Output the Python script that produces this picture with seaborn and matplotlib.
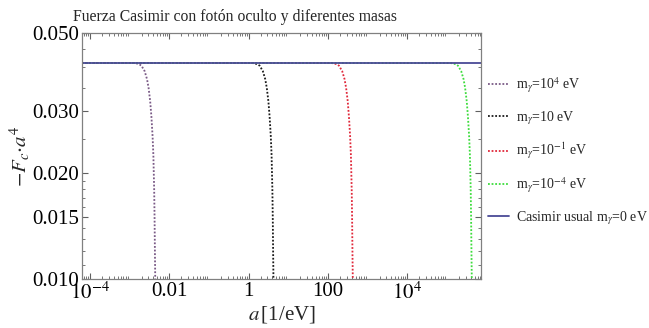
import numpy as np
import pandas as pd
import seaborn as sns
import matplotlib
matplotlib.use("Agg")
import matplotlib.pyplot as plt
from matplotlib.ticker import FixedLocator, FixedFormatter, LogLocator, NullFormatter

# ---- data ----
a_flat = [6.31e-5, 7.2e5]
f_flat = [0.0411, 0.0411]

f_drop = [0.0411, 0.0411, 0.0410, 0.0408, 0.0404, 0.0390, 0.0370, 0.0349, 0.0320,
          0.0290, 0.0255, 0.0225, 0.0180, 0.0150, 0.0117, 0.0095]

a_m1e4 = [6.31e-5, 1.318e-3, 1.514e-3, 1.738e-3, 1.995e-3, 2.399e-3, 2.754e-3, 3.020e-3,
          3.311e-3, 3.548e-3, 3.802e-3, 3.981e-3, 4.169e-3, 4.266e-3, 4.365e-3, 4.467e-3]
a_m10 = [6.31e-5, 1.259, 1.445, 1.660, 1.905, 2.291, 2.630, 2.884, 3.162, 3.388, 3.631,
         3.802, 3.981, 4.074, 4.169, 4.266]
a_m1em1 = [6.31e-5, 125.9, 144.5, 166.0, 190.5, 229.1, 263.0, 288.4, 316.2, 338.8, 363.1,
           380.2, 398.1, 407.4, 416.9, 426.6]
a_m1em4 = [6.31e-5, 1.259e5, 1.445e5, 1.660e5, 1.905e5, 2.291e5, 2.630e5, 2.884e5, 3.162e5,
           3.388e5, 3.631e5, 3.802e5, 3.981e5, 4.074e5, 4.169e5, 4.266e5]

labels = [r"m$_\gamma$=10$^4$ eV", r"m$_\gamma$=10 eV", r"m$_\gamma$=10$^{-1}$ eV",
          r"m$_\gamma$=10$^{-4}$ eV", r"Casimir usual m$_\gamma$=0 eV"]
colors = ["#7a5a86", "#1a1a1a", "#e0283a", "#3ddc3d", "#4a4a96"]

xtick_vals = [1e-4, 1e-2, 1, 1e2, 1e4]
xtick_labels = [r"$10^{-4}$", "0.01", "1", "100", r"$10^{4}$"]
ytick_vals = [0.010, 0.015, 0.020, 0.030, 0.050]
ytick_labels = ["0.010", "0.015", "0.020", "0.030", "0.050"]

sns.set_style("ticks")
plt.rcParams["font.family"] = ["Liberation Serif", "DejaVu Serif"]
plt.rcParams["mathtext.fontset"] = "stix"

fig = plt.figure(figsize=(6.49, 3.28), dpi=100)
ax = fig.add_axes([0.1263, 0.149, 0.6147, 0.750])

series = [a_m1e4, a_m10, a_m1em1, a_m1em4]
for a, lab, c in zip(series, labels[:4], colors[:4]):
    df = pd.DataFrame({"a": a, "F": f_drop})
    sns.lineplot(data=df, x="a", y="F", ax=ax, color=c, linestyle=(0, (1, 1)),
                 linewidth=1.3, label=lab, sort=False, estimator=None)
df0 = pd.DataFrame({"a": a_flat, "F": f_flat})
sns.lineplot(data=df0, x="a", y="F", ax=ax, color=colors[4], linewidth=1.3,
             label=labels[4], sort=False, estimator=None)

ax.set_xscale("log")
ax.set_yscale("log")
ax.set_xlim(6.31e-5, 7.2e5)
ax.set_ylim(0.010, 0.050)

ax.xaxis.set_major_locator(FixedLocator(xtick_vals))
ax.xaxis.set_major_formatter(FixedFormatter(xtick_labels))
ax.xaxis.set_minor_locator(LogLocator(base=10, subs=np.arange(2, 10) * 1.0, numticks=50))
ax.xaxis.set_minor_formatter(NullFormatter())
ax.yaxis.set_major_locator(FixedLocator(ytick_vals))
ax.yaxis.set_major_formatter(FixedFormatter(ytick_labels))
ax.yaxis.set_minor_locator(FixedLocator([0.011, 0.012, 0.013, 0.014, 0.016, 0.017, 0.018,
                                         0.019, 0.025, 0.035, 0.040, 0.045]))
ax.yaxis.set_minor_formatter(NullFormatter())

for s in ax.spines.values():
    s.set_visible(True)
    s.set_color("#808080")
    s.set_linewidth(0.9)
ax.tick_params(which="both", direction="in", top=True, right=True, colors="#606060",
               labelcolor="black", labelsize=15)
ax.tick_params(which="major", length=4)
ax.tick_params(which="minor", length=2)
ax.tick_params(axis="x", pad=2)
ax.tick_params(axis="y", pad=2)

fig.text(73 / 649, 1 - 17 / 328, "Fuerza Casimir con fotón oculto y diferentes masas",
         fontsize=11.3, ha="left", va="center")
ax.set_xlabel(r"$a\,$[1/eV]", fontsize=15, labelpad=0)
ax.set_ylabel(r"$-F_c{\cdot}a^4$", fontsize=15, labelpad=0)

leg = ax.legend(loc="upper left", bbox_to_anchor=(1.005, 0.85), frameon=False,
                fontsize=10, handlelength=1.5, labelspacing=1.02, handletextpad=0.45,
                borderaxespad=0)

fig.savefig("out.png", dpi=100)
